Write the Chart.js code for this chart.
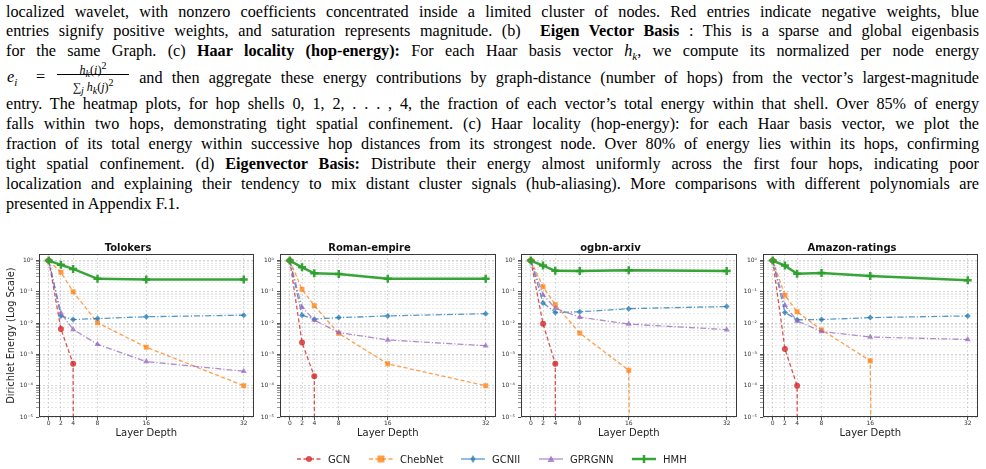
<!DOCTYPE html>
<html>
<head>
<meta charset="utf-8">
<script src="https://cdn.jsdelivr.net/npm/chart.js@4.4.0/dist/chart.umd.min.js"></script>
<style>
html, body { margin: 0; padding: 0; background: #fff; width: 986px; height: 469px; overflow: hidden; position: relative; }
.ln { position: absolute; left: 6px; width: 973px; font-family: "Liberation Serif", "Times New Roman", serif; font-size: 16.2px; line-height: 20px; color: #000; text-align: justify; text-align-last: justify; }
.ln.last { text-align: left; text-align-last: left; }
.eq { display: inline-block; width: 124px; position: relative; height: 10px; text-align: left; text-align-last: left; }
.eq .lhs { position: absolute; left: 1px; top: -6px; }
.eq .eqs { position: absolute; left: 30px; top: -6px; }
.frac { position: absolute; left: 51px; width: 72px; top: 0; font-size: 12px; line-height: 13px; text-align: center; text-align-last: center; white-space: nowrap; }
.frac .num { position: absolute; left: 0; right: 0; top: -14px; }
.frac .den { position: absolute; left: 0; right: 0; top: 1px; border-top: 1px solid #000; padding-top: 1px; }
canvas { position: absolute; }
.leg { position: absolute; top: 453px; height: 12px; font-family: "DejaVu Sans", sans-serif; font-size: 10px; color: #222; display: flex; align-items: center; white-space: nowrap; }
.leg svg { margin-right: 7px; }
</style>
</head>
<body>

<div class="ln" style="top:2px">localized wavelet, with nonzero coefficients concentrated inside a limited cluster of nodes. Red entries indicate negative weights, blue</div>
<div class="ln" style="top:21px">entries signify positive weights, and saturation represents magnitude. (b) &nbsp;<b>Eigen Vector Basis</b> : This is a sparse and global eigenbasis</div>
<div class="ln" style="top:41px">for the same Graph. (c) <b>Haar locality (hop-energy):</b> For each Haar basis vector <i>h<sub style="font-size:11px">k</sub></i>, we compute its normalized per node energy</div>
<div class="ln" style="top:68px"><span class="eq"><span class="lhs"><i>e<sub style="font-size:11px">i</sub></i></span><span class="eqs">=</span><span class="frac"><span class="num"><i>h<sub>k</sub></i>(<i>i</i>)<sup>2</sup></span><span class="den">&sum;<sub><i>j</i></sub> <i>h<sub>k</sub></i>(<i>j</i>)<sup>2</sup></span></span></span> and then aggregate these energy contributions by graph-distance (number of hops) from the vector’s largest-magnitude</div>
<div class="ln" style="top:94px">entry. The heatmap plots, for hop shells 0, 1, 2, . . . , 4, the fraction of each vector’s total energy within that shell. Over 85% of energy</div>
<div class="ln" style="top:114px">falls within two hops, demonstrating tight spatial confinement. (c) Haar locality (hop-energy): for each Haar basis vector, we plot the</div>
<div class="ln" style="top:134px">fraction of its total energy within successive hop distances from its strongest node. Over 80% of energy lies within its hops, confirming</div>
<div class="ln" style="top:154px">tight spatial confinement. (d) <b>Eigenvector Basis:</b> Distribute their energy almost uniformly across the first four hops, indicating poor</div>
<div class="ln" style="top:174px">localization and explaining their tendency to mix distant cluster signals (hub-aliasing). More comparisons with different polynomials are</div>
<div class="ln last" style="top:194px">presented in Appendix F.1.</div>

<canvas id="c0"></canvas>
<canvas id="c1"></canvas>
<canvas id="c2"></canvas>
<canvas id="c3"></canvas>

<div class="leg" style="left:297px"><svg width="24" height="10"><line x1="0" y1="5" x2="24" y2="5" stroke="rgba(214,39,40,0.8)" stroke-width="1.3" stroke-dasharray="4,2.5"/><circle cx="12" cy="5" r="3" fill="rgba(214,39,40,0.8)"/></svg>GCN</div>
<div class="leg" style="left:369px"><svg width="24" height="10"><line x1="0" y1="5" x2="24" y2="5" stroke="rgba(255,127,14,0.75)" stroke-width="1.3" stroke-dasharray="4,2.5"/><rect x="8.5" y="1.5" width="7" height="7" fill="rgba(255,127,14,0.75)"/></svg>ChebNet</div>
<div class="leg" style="left:461px"><svg width="24" height="10"><line x1="0" y1="5" x2="24" y2="5" stroke="rgba(31,119,180,0.75)" stroke-width="1.3"/><polygon points="12,1 14.5,5 12,9 9.5,5" fill="rgba(31,119,180,0.75)"/></svg>GCNII</div>
<div class="leg" style="left:539px"><svg width="24" height="10"><line x1="0" y1="5" x2="24" y2="5" stroke="rgba(148,103,189,0.75)" stroke-width="1.3"/><polygon points="12,1.5 15.5,8 8.5,8" fill="rgba(148,103,189,0.75)"/></svg>GPRGNN</div>
<div class="leg" style="left:632px"><svg width="24" height="10"><line x1="0" y1="5" x2="24" y2="5" stroke="rgba(44,160,44,0.95)" stroke-width="2.5"/><line x1="12" y1="1" x2="12" y2="9" stroke="rgba(44,160,44,0.95)" stroke-width="2.5"/></svg>HMH</div>

<script>
// layer depths (x) and the four datasets
var depths = [0, 2, 4, 8, 16, 32];
var titles = ['Tolokers', 'Roman-empire', 'ogbn-arxiv', 'Amazon-ratings'];

// energy that collapsed to zero; on the log axis it drops straight off the bottom
var ZERO = 1e-300;

// Dirichlet energy per model, one row per dataset (same order as titles)
var gcn = [
    [1, 0.0065, 0.0005, ZERO, ZERO, ZERO],
    [1, 0.0024, 0.0002, ZERO, ZERO, ZERO],
    [1, 0.0095, 0.0005, ZERO, ZERO, ZERO],
    [1, 0.0015, 0.0001, ZERO, ZERO, ZERO]
];
var chebnet = [
    [1, 0.42, 0.10, 0.0103, 0.0017, 0.0001],
    [1, 0.12, 0.036, 0.0047, 0.0005, 0.0001],
    [1, 0.145, 0.039, 0.0048, 0.00031, ZERO],
    [1, 0.078, 0.023, 0.0061, 0.00063, ZERO]
];
var gcnii = [
    [1, 0.017, 0.013, 0.014, 0.016, 0.018],
    [1, 0.018, 0.0134, 0.015, 0.017, 0.020],
    [1, 0.044, 0.022, 0.023, 0.029, 0.034],
    [1, 0.022, 0.0128, 0.013, 0.015, 0.017]
];
var gprgnn = [
    [1, 0.021, 0.0063, 0.0021, 0.00059, 0.00029],
    [1, 0.032, 0.0125, 0.005, 0.0029, 0.0019],
    [1, 0.08, 0.030, 0.0155, 0.0093, 0.0062],
    [1, 0.037, 0.0118, 0.0054, 0.0036, 0.003]
];
var hmh = [
    [1, 0.73, 0.54, 0.26, 0.25, 0.25],
    [1, 0.61, 0.39, 0.37, 0.26, 0.26],
    [1, 0.69, 0.47, 0.46, 0.49, 0.46],
    [1, 0.69, 0.38, 0.40, 0.32, 0.235]
];

var models = [
    {label: 'GCN',     rows: gcn,     color: 'rgba(214,39,40,0.8)',   dash: [4, 2.5],         pt: 'circle',   r: 3,   w: 1.3, order: 5},
    {label: 'ChebNet', rows: chebnet, color: 'rgba(255,127,14,0.75)', dash: [4, 2.5],         pt: 'rect',     r: 3.5, w: 1.3, order: 4},
    {label: 'GCNII',   rows: gcnii,   color: 'rgba(31,119,180,0.75)', dash: [6, 2, 1.2, 2],   pt: 'rectRot',  r: 3,   w: 1.3, order: 3},
    {label: 'GPRGNN',  rows: gprgnn,  color: 'rgba(148,103,189,0.75)',dash: [6, 2, 1.2, 2],   pt: 'triangle', r: 3.5, w: 1.3, order: 2},
    {label: 'HMH',     rows: hmh,     color: 'rgba(44,160,44,0.95)',  dash: [],               pt: 'cross',    r: 4,   w: 2.5, order: 1}
];

// plot frame left/right edges in page pixels
var frames = [[39, 256], [280, 498], [521, 739], [763, 980]];
var TOP = 237, HEIGHT = 205, YAXIS_W = 39, PAD_R = 4;

var SUP = {'-': '⁻', '0': '⁰', '1': '¹', '2': '²', '3': '³', '4': '⁴', '5': '⁵'};
function pow10Label(v) {
    var e = String(Math.round(Math.log10(v)));
    return '10' + e.split('').map(function(ch) { return SUP[ch]; }).join('');
}

var boxPlugin = {
    id: 'box',
    afterDatasetsDraw: function(chart) {
        var a = chart.chartArea, ctx = chart.ctx;
        ctx.save();
        ctx.strokeStyle = '#3a3a3a';
        ctx.lineWidth = 1;
        ctx.strokeRect(Math.round(a.left) + 0.5, Math.round(a.top) + 0.5,
                       Math.round(a.right - a.left) - 1, Math.round(a.bottom - a.top) - 1);
        ctx.restore();
    }
};

titles.forEach(function(title, k) {
    var cv = document.getElementById('c' + k);
    var L = frames[k][0], R = frames[k][1];
    var w = R - L + YAXIS_W + PAD_R;
    cv.width = w; cv.height = HEIGHT;
    cv.style.left = (L - YAXIS_W) + 'px';
    cv.style.top = TOP + 'px';
    cv.style.width = w + 'px';
    cv.style.height = HEIGHT + 'px';

    var ds = models.map(function(m) {
        return {
            label: m.label,
            data: depths.map(function(d, i) { return {x: d, y: m.rows[k][i]}; }),
            borderColor: m.color,
            backgroundColor: m.color,
            borderWidth: m.w,
            borderDash: m.dash,
            pointStyle: m.pt,
            pointRadius: m.r,
            pointBorderWidth: m.pt === 'cross' ? 2.5 : 0,
            pointBackgroundColor: m.color,
            pointBorderColor: m.color,
            tension: 0,
            order: m.order
        };
    });

    new Chart(cv, {
        type: 'line',
        data: {datasets: ds},
        options: {
            responsive: false,
            animation: false,
            devicePixelRatio: 1,
            layout: {padding: {left: 0, right: PAD_R, top: 0, bottom: 0}},
            plugins: {
                legend: {display: false},
                tooltip: {enabled: false},
                title: {
                    display: true, text: title, color: '#111',
                    font: {family: 'DejaVu Sans', size: 10, weight: 'bold'},
                    padding: {top: 5, bottom: 0}
                }
            },
            scales: {
                x: {
                    type: 'linear', min: -1.6, max: 33.6,
                    afterBuildTicks: function(s) { s.ticks = depths.map(function(v) { return {value: v}; }); },
                    afterFit: function(s) { s.height = 25; },
                    ticks: {autoSkip: false, maxRotation: 0, padding: 0, color: '#333',
                            font: {family: 'DejaVu Sans', size: 6}},
                    grid: {color: 'rgba(0,0,0,0.14)', tickColor: '#555', tickLength: 3},
                    border: {display: false, dash: [2, 2]},
                    title: {display: true, text: 'Layer Depth', color: '#222',
                            font: {family: 'DejaVu Sans', size: 10}, padding: {top: 0, bottom: 3}}
                },
                y: {
                    type: 'logarithmic', min: 1e-5, max: 1.62,
                    afterBuildTicks: function(s) {
                        var t = [];
                        for (var e = -5; e <= 0; e++) {
                            for (var m = 1; m <= 9; m++) {
                                var v = m * Math.pow(10, e);
                                if (v <= s.max) t.push({value: v, major: m === 1});
                            }
                        }
                        s.ticks = t;
                    },
                    afterFit: function(s) { s.width = YAXIS_W; },
                    ticks: {
                        autoSkip: false, padding: 3, color: '#333',
                        font: {family: 'DejaVu Sans', size: 6},
                        callback: function(v, i, ticks) { return ticks[i].major ? pow10Label(v) : ''; }
                    },
                    grid: {
                        color: function(c) { return c.tick && c.tick.major ? 'rgba(0,0,0,0.17)' : 'rgba(0,0,0,0.09)'; },
                        tickColor: function(c) { return c.tick && c.tick.major ? '#555' : '#999'; },
                        tickLength: 3
                    },
                    border: {display: false, dash: [2, 2]},
                    title: {display: k === 0, text: 'Dirichlet Energy (Log Scale)', color: '#222',
                            font: {family: 'DejaVu Sans', size: 9.8}, padding: {top: 6, bottom: 0}}
                }
            }
        },
        plugins: [boxPlugin]
    });
});
</script>
</body>
</html>
